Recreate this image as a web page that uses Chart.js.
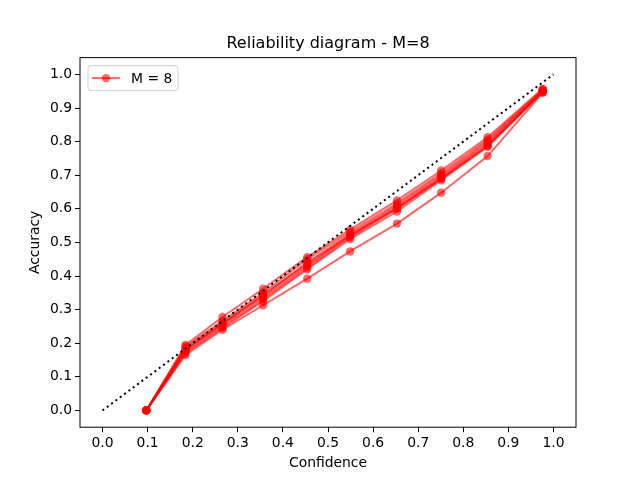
<!DOCTYPE html>
<html>
<head>
<meta charset="utf-8">
<script src="https://cdn.jsdelivr.net/npm/chart.js@4/dist/chart.umd.min.js"></script>
<style>
  html, body { margin: 0; padding: 0; background: #fff; }
  #wrap { width: 640px; height: 480px; }
</style>
</head>
<body>
<div id="wrap"><canvas id="grafico" width="640" height="480"></canvas></div>
<script>
// mean confidence per bin
const confianza = [0.097, 0.184, 0.266, 0.356, 0.454, 0.549, 0.653, 0.751, 0.854, 0.976];

// accuracy per bin, one array per run
const corrida1 = [0, 0.195, 0.278, 0.362, 0.456, 0.538, 0.625, 0.714, 0.813, 0.957];
const corrida2 = [0, 0.190, 0.266, 0.350, 0.450, 0.531, 0.616, 0.706, 0.806, 0.955];
const corrida3 = [0, 0.185, 0.261, 0.341, 0.441, 0.525, 0.610, 0.700, 0.800, 0.952];
const corrida4 = [0, 0.180, 0.256, 0.336, 0.431, 0.520, 0.604, 0.695, 0.795, 0.950];
const corrida5 = [0, 0.175, 0.250, 0.330, 0.425, 0.515, 0.600, 0.690, 0.790, 0.948];
const corrida6 = [0, 0.170, 0.245, 0.325, 0.420, 0.510, 0.592, 0.685, 0.785, 0.947];
const corrida7 = [0, 0.180, 0.258, 0.345, 0.436, 0.521, 0.602, 0.690, 0.786, 0.950];
const corrida8 = [0, 0.165, 0.240, 0.313, 0.392, 0.473, 0.556, 0.648, 0.757, 0.945];
const corridas = [corrida1, corrida2, corrida3, corrida4, corrida5, corrida6, corrida7, corrida8];

const diagX = [0, 1];
const diagY = [0, 1];

const ticksX = [0, 0.1, 0.2, 0.3, 0.4, 0.5, 0.6, 0.7, 0.8, 0.9, 1.0];
const ticksY = [0, 0.1, 0.2, 0.3, 0.4, 0.5, 0.6, 0.7, 0.8, 0.9, 1.0];

const titulo = 'Reliability diagram - M=8';
const etiqueta = 'M = 8';

const rojo = 'rgba(255, 0, 0, 0.6)';
const fuente = 'DejaVu Sans';

const datasets = [{
    label: 'diagonal',
    data: diagX.map((x, i) => ({ x: x, y: diagY[i] })),
    showLine: true,
    borderColor: '#000',
    borderWidth: 2,
    borderDash: [2, 3.4],
    pointRadius: 0
}];
corridas.forEach((acc, k) => {
    datasets.push({
        label: k === 0 ? etiqueta : '',
        data: confianza.map((c, i) => ({ x: c, y: acc[i] })),
        showLine: true,
        borderColor: rojo,
        backgroundColor: rojo,
        borderWidth: 2,
        pointRadius: 4.2,
        pointBorderWidth: 0,
        pointBackgroundColor: rojo
    });
});

// frame around the plot + matplotlib-like legend
const marco = {
    id: 'marco',
    afterDraw(chart) {
        const ctx = chart.ctx;
        const a = chart.chartArea;
        ctx.save();
        ctx.strokeStyle = '#000';
        ctx.lineWidth = 1;
        ctx.strokeRect(a.left, a.top, a.right - a.left, a.bottom - a.top);

        // legend
        const lx = a.left + 8, ly = a.top + 8, lw = 90, lh = 25;
        ctx.fillStyle = 'rgba(255,255,255,0.8)';
        ctx.strokeStyle = '#d0d0d0';
        ctx.beginPath();
        ctx.roundRect(lx, ly, lw, lh, 3);
        ctx.fill();
        ctx.stroke();
        const cy = ly + lh / 2;
        ctx.strokeStyle = rojo;
        ctx.lineWidth = 2;
        ctx.beginPath();
        ctx.moveTo(lx + 4, cy);
        ctx.lineTo(lx + 32, cy);
        ctx.stroke();
        ctx.fillStyle = rojo;
        ctx.beginPath();
        ctx.arc(lx + 18, cy, 4.2, 0, Math.PI * 2);
        ctx.fill();
        ctx.fillStyle = '#000';
        ctx.font = '13.9px "' + fuente + '"';
        ctx.textBaseline = 'middle';
        ctx.fillText(etiqueta, lx + 43, cy + 1);
        ctx.restore();
    }
};

new Chart(document.getElementById('grafico'), {
    type: 'scatter',
    data: { datasets: datasets },
    plugins: [marco],
    options: {
        responsive: false,
        animation: false,
        layout: { padding: { left: 16, right: 0, top: 0, bottom: 0 } },
        plugins: {
            legend: { display: false },
            tooltip: { enabled: false },
            title: {
                display: true,
                text: titulo,
                color: '#000',
                font: { family: fuente, size: 16, weight: 'normal', lineHeight: 1.2 },
                padding: { top: 34, bottom: 4.4 }
            }
        },
        scales: {
            x: {
                type: 'linear',
                min: -0.05,
                max: 1.05,
                afterFit: s => { s.height = 52.8; },
                afterBuildTicks: s => { s.ticks = ticksX.map(v => ({ value: v })); },
                grid: { drawOnChartArea: false, drawTicks: true, tickLength: 5, tickColor: '#000', color: '#000' },
                border: { display: false },
                ticks: {
                    color: '#000',
                    padding: 3,
                    maxRotation: 0,
                    font: { family: fuente, size: 13.9 },
                    callback: v => v.toFixed(1)
                },
                title: {
                    display: true,
                    text: 'Confidence',
                    color: '#000',
                    font: { family: fuente, size: 13.9 },
                    padding: { top: 0, bottom: 8 }
                }
            },
            y: {
                type: 'linear',
                min: -0.05,
                max: 1.05,
                afterFit: s => { s.width = 64; },
                afterBuildTicks: s => { s.ticks = ticksY.map(v => ({ value: v })); },
                grid: { drawOnChartArea: false, drawTicks: true, tickLength: 5, tickColor: '#000', color: '#000' },
                border: { display: false },
                ticks: {
                    color: '#000',
                    padding: 3,
                    font: { family: fuente, size: 13.9 },
                    callback: v => v.toFixed(1)
                },
                title: {
                    display: true,
                    text: 'Accuracy',
                    color: '#000',
                    font: { family: fuente, size: 13.9 },
                    padding: { top: 11, bottom: 0 }
                }
            },
            derecha: {
                type: 'linear',
                position: 'right',
                display: true,
                afterFit: s => { s.width = 64; },
                grid: { display: false },
                border: { display: false },
                ticks: { display: false }
            }
        }
    }
});
</script>
</body>
</html>
